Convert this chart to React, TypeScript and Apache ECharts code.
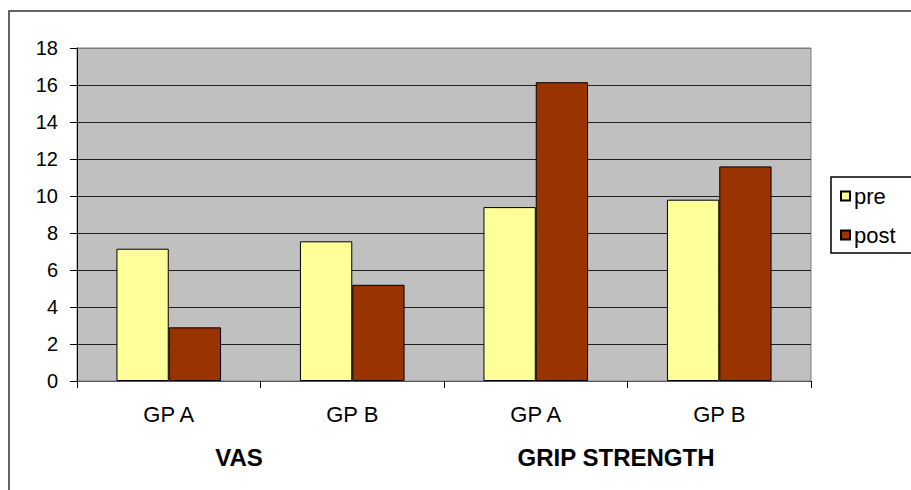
import React, { useEffect, useRef } from "react";
import * as echarts from "echarts";

// Group labels under each pair of bars, and the measures they belong to
const categories = ["GP A", "GP B", "GP A", "GP B"];
const groupTitles = ["VAS", "GRIP STRENGTH"];
const preValues = [7.15, 7.55, 9.4, 9.8];
const postValues = [2.9, 5.2, 16.15, 11.6];
const seriesNames = ["pre", "post"];
const yTicks = [0, 2, 4, 6, 8, 10, 12, 14, 16, 18];

const FONT = "'Liberation Sans', Arial, sans-serif";

export default function App() {
  const ref = useRef<HTMLDivElement>(null);

  useEffect(() => {
    if (!ref.current) return;
    const chart = echarts.init(ref.current, undefined, { renderer: "svg" });

    const gridColors = yTicks.map((_, i) =>
      i === 0 || i === yTicks.length - 1 ? "#808080" : "#1e1e1e"
    );

    chart.setOption({
      animation: false,
      backgroundColor: "#ffffff",
      textStyle: { fontFamily: FONT },
      grid: {
        left: 77,
        top: 48,
        right: 100,
        bottom: 109,
        show: true,
        backgroundColor: "#C0C0C0",
        borderColor: "#808080",
        borderWidth: 1,
      },
      legend: {
        orient: "vertical",
        left: 840,
        top: 185,
        padding: 0,
        itemWidth: 9,
        itemHeight: 9,
        itemGap: 17,
        icon: "rect",
        data: seriesNames,
        textStyle: { fontFamily: FONT, fontSize: 22, color: "#000", padding: [0, 0, 0, -1] },
        selectedMode: false,
      },
      xAxis: {
        type: "category",
        data: categories,
        axisLine: { lineStyle: { color: "#555", width: 1 } },
        axisTick: {
          show: true,
          alignWithLabel: false,
          length: 7,
          lineStyle: { color: "#000" },
        },
        axisLabel: {
          fontFamily: FONT,
          fontSize: 22,
          color: "#000",
          margin: 22,
        },
        splitLine: { show: false },
      },
      yAxis: {
        type: "value",
        min: 0,
        max: 18,
        interval: 2,
        axisLine: { show: true, lineStyle: { color: "#000", width: 1 } },
        axisTick: { show: true, length: 7, lineStyle: { color: "#000" } },
        axisLabel: {
          fontFamily: FONT,
          fontSize: 20,
          color: "#000",
          margin: 19,
        },
        splitLine: { show: true, lineStyle: { color: gridColors, width: 1.2 } },
      },
      series: [
        {
          name: seriesNames[0],
          type: "bar",
          data: preValues,
          barGap: "0%",
          barCategoryGap: "43%",
          itemStyle: { color: "#FFFF99", borderColor: "#000", borderWidth: 1 },
        },
        {
          name: seriesNames[1],
          type: "bar",
          data: postValues,
          barGap: "0%",
          barCategoryGap: "43%",
          itemStyle: { color: "#993300", borderColor: "#000", borderWidth: 1 },
        },
      ],
      graphic: [
        // outer chart frame, running past the right and bottom edges
        {
          type: "rect",
          shape: { x: 9, y: 11, width: 1000, height: 1000 },
          style: { fill: "none", stroke: "#333", lineWidth: 1.5 },
          silent: true,
          z: -1,
        },
        // legend frame
        {
          type: "rect",
          shape: { x: 831, y: 177, width: 120, height: 76 },
          style: { fill: "#fff", stroke: "#000", lineWidth: 1.5 },
          silent: true,
          z: -1,
        },
        {
          type: "text",
          x: 239,
          y: 457,
          style: {
            text: groupTitles[0],
            fontFamily: FONT,
            fontSize: 24,
            fontWeight: "bold",
            fill: "#000",
            align: "center",
            verticalAlign: "middle",
          },
        },
        {
          type: "text",
          x: 616,
          y: 457,
          style: {
            text: groupTitles[1],
            fontFamily: FONT,
            fontSize: 24,
            fontWeight: "bold",
            fill: "#000",
            align: "center",
            verticalAlign: "middle",
          },
        },
      ],
    });

    return () => chart.dispose();
  }, []);

  return (
    <div
      ref={ref}
      style={{ width: 911, height: 490, position: "absolute", left: 0, top: 0 }}
    />
  );
}
